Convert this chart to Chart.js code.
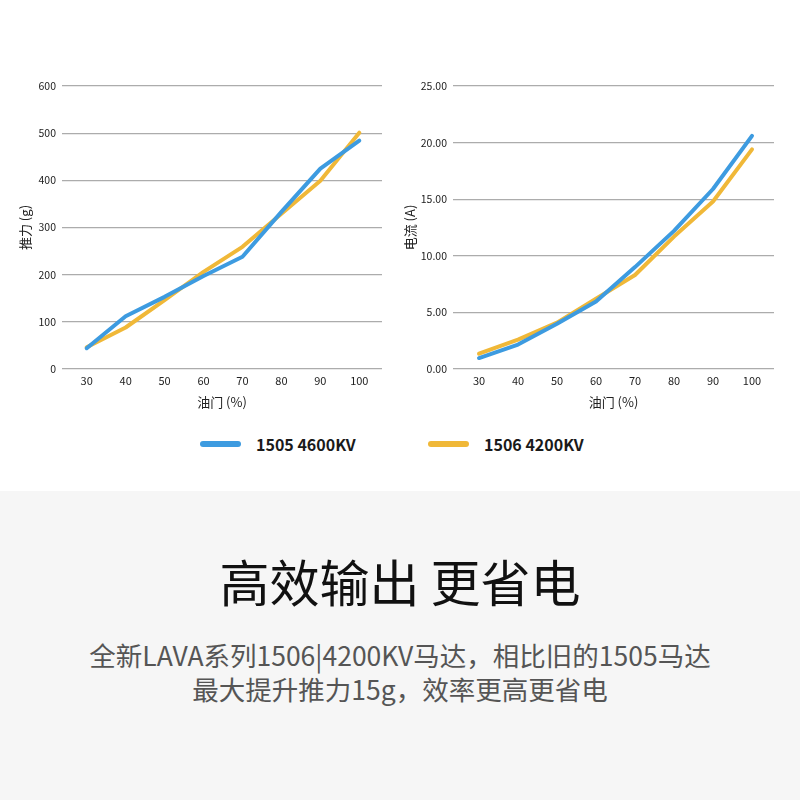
<!DOCTYPE html>
<html>
<head>
<meta charset="utf-8">
<script src="https://cdn.jsdelivr.net/npm/chart.js@4.4.1/dist/chart.umd.min.js"></script>
<style>
  html, body { margin: 0; padding: 0; width: 800px; height: 800px; background: #fff; overflow: hidden;
    font-family: "Noto Sans CJK SC", "Noto Sans", sans-serif; }
  .wrap { position: absolute; }
  #c1wrap { left: 0; top: 70px; width: 400px; height: 350px; }
  #c2wrap { left: 400px; top: 70px; width: 400px; height: 350px; }
  #legend { position: absolute; top: 432px; left: 0; width: 800px; height: 24px; }
  .lg { position: absolute; top: 0; height: 24px; display: flex; align-items: center; }
  .lg .sw { width: 41px; height: 6px; border-radius: 3px; margin-right: 15px; }
  .lg .tx { font-size: 16px; font-weight: bold; color: #1a1a1a; font-family: "Noto Sans CJK SC", sans-serif; }
  #bottom { position: absolute; left: 0; top: 491px; width: 800px; height: 309px; background: #f6f6f6; }
  #title { position: absolute; top: 52px; width: 800px; text-align: center; font-size: 50px; color: #111; line-height: 74px; }
  #sub { position: absolute; top: 147px; width: 800px; text-align: center; font-size: 26.5px; color: #555; line-height: 34px; }
</style>
</head>
<body>
<div class="wrap" id="c1wrap"><canvas id="c1"></canvas></div>
<div class="wrap" id="c2wrap"><canvas id="c2"></canvas></div>
<div id="legend"></div>
<div id="bottom">
  <div id="title">高效输出 更省电</div>
  <div id="sub">全新LAVA系列1506|4200KV马达，相比旧的1505马达<br>最大提升推力15g，效率更高更省电</div>
</div>
<script>
const throttle = [30, 40, 50, 60, 70, 80, 90, 100];
const seriesNames = ["1505 4600KV", "1506 4200KV"];
const seriesColors = ["#3d9be0", "#f0b838"];
const thrust1505 = [44, 112, 153, 197, 238, 333, 425, 484];
const thrust1506 = [46, 88, 146, 206, 259, 329, 399, 501];
const current1505 = [0.97, 2.16, 4.0, 5.97, 9.0, 12.2, 15.9, 20.6];
const current1506 = [1.35, 2.6, 4.1, 6.2, 8.3, 11.7, 14.8, 19.4];
const thrustTicks = { min: 0, max: 600, step: 100 };
const currentTicks = { min: 0, max: 25, step: 5 };

const font = "'Noto Sans CJK SC', 'Noto Sans', sans-serif";

function pts(vals) { return throttle.map((t, i) => ({ x: t, y: vals[i] })); }

function makeChart(id, d1, d2, yTitle, ticks, decimals, yWidth, rightPad, xMin, xMax, yTitlePad) {
  return new Chart(document.getElementById(id), {
    type: 'line',
    data: {
      datasets: [
        { label: seriesNames[0], data: pts(d1), borderColor: seriesColors[0], backgroundColor: seriesColors[0],
          borderWidth: 4, pointRadius: 0, tension: 0, borderCapStyle: 'round', borderJoinStyle: 'round' },
        { label: seriesNames[1], data: pts(d2), borderColor: seriesColors[1], backgroundColor: seriesColors[1],
          borderWidth: 4, pointRadius: 0, tension: 0, borderCapStyle: 'round', borderJoinStyle: 'round' }
      ]
    },
    options: {
      responsive: true,
      maintainAspectRatio: false,
      animation: false,
      layout: { padding: { left: 0, right: rightPad, top: 16, bottom: 10 } },
      plugins: { legend: { display: false }, tooltip: { enabled: false } },
      scales: {
        x: {
          type: 'linear',
          min: xMin, max: xMax,
          afterBuildTicks: s => { s.ticks = throttle.map(v => ({ value: v })); },
          afterFit: s => { s.height = 41; },
          grid: { display: false, drawTicks: false },
          border: { display: false },
          ticks: { color: '#222', font: { family: font, size: 11 }, padding: 5, autoSkip: false, maxRotation: 0 },
          title: { display: true, text: '油门 (%)', color: '#222', font: { family: font, size: 13 }, padding: { top: 5, bottom: 0 } }
        },
        y: {
          min: ticks.min, max: ticks.max,
          afterFit: s => { s.width = yWidth; },
          grid: { color: '#acacac', lineWidth: 1.2, drawTicks: false },
          border: { display: false },
          ticks: { stepSize: ticks.step, color: '#222', font: { family: font, size: 10.5 }, padding: 6,
                   callback: v => v.toFixed(decimals) },
          title: { display: true, text: yTitle, color: '#222', font: { family: font, size: 13 }, padding: { top: yTitlePad, bottom: 4 } }
        }
      }
    }
  });
}

makeChart('c1', thrust1505, thrust1506, '推力 (g)', thrustTicks, 0, 62, 18, 23.66, 105.83, 17);
makeChart('c2', current1505, current1506, '电流 (A)', currentTicks, 2, 53, 26, 23.33, 105.64, 2);

const legend = document.getElementById('legend');
const lgLeft = [200, 428];
seriesNames.forEach((n, i) => {
  const item = document.createElement('div');
  item.className = 'lg';
  item.style.left = lgLeft[i] + 'px';
  item.innerHTML = '<div class="sw" style="background:' + seriesColors[i] + '"></div><div class="tx">' + n + '</div>';
  legend.appendChild(item);
});
</script>
</body>
</html>
